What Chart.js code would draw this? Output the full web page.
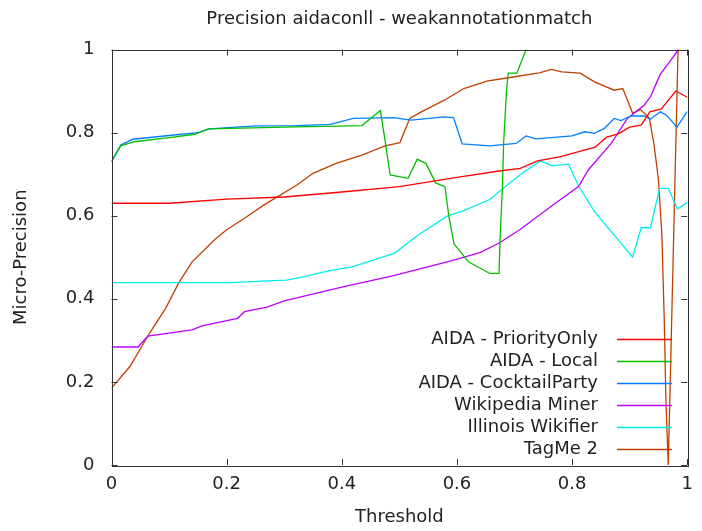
<!DOCTYPE html>
<html>
<head>
<meta charset="utf-8">
<script src="https://cdn.jsdelivr.net/npm/chart.js@4.4.0/dist/chart.umd.min.js"></script>
<style>
  html, body { margin: 0; padding: 0; background: #fff; }
  #myChart { display: block; }
</style>
</head>
<body>
<canvas id="myChart" width="702" height="531"></canvas>
<script>
// values (threshold -> micro-precision)
const priorityX = [0, 0.1, 0.2, 0.3, 0.4, 0.5, 0.6, 0.67, 0.71, 0.74, 0.78, 0.84, 0.86, 0.88, 0.9, 0.92, 0.935, 0.955, 0.98, 1.0];
const priorityY = [0.63, 0.63, 0.64, 0.645, 0.657, 0.67, 0.692, 0.707, 0.714, 0.732, 0.742, 0.765, 0.789, 0.797, 0.813, 0.818, 0.85, 0.857, 0.90, 0.885];

const localX = [0, 0.016, 0.04, 0.1, 0.145, 0.168, 0.3, 0.435, 0.467, 0.475, 0.484, 0.515, 0.531, 0.546, 0.563, 0.579, 0.586, 0.595, 0.62, 0.657, 0.673, 0.675, 0.679, 0.681, 0.686, 0.689, 0.704, 0.72, 0.74];
const localY = [0.73, 0.768, 0.778, 0.788, 0.796, 0.809, 0.813, 0.817, 0.853, 0.782, 0.698, 0.69, 0.736, 0.726, 0.679, 0.67, 0.598, 0.532, 0.489, 0.461, 0.461, 0.549, 0.67, 0.774, 0.90, 0.943, 0.943, 1.0, 1.06];

const cocktailX = [0, 0.016, 0.037, 0.1, 0.15, 0.17, 0.25, 0.32, 0.38, 0.42, 0.49, 0.52, 0.578, 0.594, 0.609, 0.657, 0.703, 0.72, 0.737, 0.8, 0.822, 0.839, 0.856, 0.873, 0.885, 0.902, 0.925, 0.936, 0.953, 0.964, 0.982, 1.0];
const cocktailY = [0.73, 0.77, 0.784, 0.793, 0.80, 0.809, 0.816, 0.817, 0.82, 0.834, 0.836, 0.83, 0.838, 0.836, 0.773, 0.768, 0.774, 0.792, 0.785, 0.792, 0.802, 0.798, 0.81, 0.834, 0.829, 0.84, 0.84, 0.832, 0.85, 0.842, 0.813, 0.851];

const minerX = [0, 0.046, 0.063, 0.14, 0.157, 0.219, 0.231, 0.27, 0.3, 0.4, 0.49, 0.583, 0.64, 0.674, 0.709, 0.765, 0.811, 0.828, 0.868, 0.896, 0.925, 0.936, 0.953, 0.967, 0.985];
const minerY = [0.284, 0.284, 0.31, 0.325, 0.335, 0.353, 0.369, 0.38, 0.395, 0.428, 0.456, 0.489, 0.511, 0.535, 0.566, 0.624, 0.67, 0.71, 0.774, 0.834, 0.866, 0.886, 0.94, 0.966, 1.0];

const wikifierX = [0, 0.208, 0.27, 0.304, 0.333, 0.379, 0.418, 0.492, 0.532, 0.583, 0.612, 0.657, 0.691, 0.714, 0.745, 0.765, 0.794, 0.811, 0.839, 0.905, 0.92, 0.936, 0.952, 0.967, 0.983, 1.0];
const wikifierY = [0.439, 0.439, 0.443, 0.445, 0.453, 0.468, 0.477, 0.51, 0.553, 0.599, 0.612, 0.639, 0.678, 0.703, 0.732, 0.72, 0.724, 0.672, 0.61, 0.50, 0.571, 0.571, 0.666, 0.666, 0.616, 0.632];

const tagmeX = [0, 0.032, 0.066, 0.094, 0.117, 0.14, 0.179, 0.2, 0.231, 0.265, 0.322, 0.35, 0.39, 0.435, 0.475, 0.501, 0.518, 0.538, 0.578, 0.612, 0.652, 0.689, 0.743, 0.764, 0.782, 0.814, 0.839, 0.873, 0.888, 0.905, 0.919, 0.934, 0.942, 0.95, 0.956, 0.96, 0.963, 0.967, 0.984];
const tagmeY = [0.185, 0.237, 0.317, 0.377, 0.439, 0.489, 0.542, 0.566, 0.594, 0.626, 0.674, 0.702, 0.726, 0.746, 0.768, 0.776, 0.834, 0.85, 0.878, 0.906, 0.924, 0.932, 0.944, 0.952, 0.946, 0.943, 0.922, 0.902, 0.906, 0.847, 0.855, 0.835, 0.774, 0.686, 0.55, 0.35, 0.15, 0, 1.0];

const seriesNames = ['AIDA - PriorityOnly', 'AIDA - Local', 'AIDA - CocktailParty', 'Wikipedia Miner', 'Illinois Wikifier', 'TagMe 2'];
const seriesColors = ['#ff0000', '#00c000', '#0080ff', '#c000ff', '#00eeee', '#c04000'];
const xTicks = [0, 0.2, 0.4, 0.6, 0.8, 1];
const yTicks = [0, 0.2, 0.4, 0.6, 0.8, 1];

const allX = [priorityX, localX, cocktailX, minerX, wikifierX, tagmeX];
const allY = [priorityY, localY, cocktailY, minerY, wikifierY, tagmeY];

const FONT = 'DejaVu Sans';
const FSIZE = 18;
const TEXT = '#222';

function pts(xs, ys) {
    return xs.map((x, i) => ({ x: x, y: ys[i] }));
}

// gnuplot style frame, inward ticks, title and key
const gnuplotFrame = {
    id: 'gnuplotFrame',
    afterDatasetsDraw(chart) {
        const ctx = chart.ctx;
        const a = chart.chartArea;
        const xs = chart.scales.x, ys = chart.scales.y;
        ctx.save();
        ctx.strokeStyle = '#333';
        ctx.lineWidth = 1;
        ctx.strokeRect(Math.round(a.left) + 0.5, Math.round(a.top) + 0.5,
            Math.round(a.right - a.left), Math.round(a.bottom - a.top));
        ctx.beginPath();
        xTicks.forEach(v => {
            const px = Math.round(xs.getPixelForValue(v)) + 0.5;
            ctx.moveTo(px, a.bottom); ctx.lineTo(px, a.bottom - 6);
            ctx.moveTo(px, a.top); ctx.lineTo(px, a.top + 6);
        });
        yTicks.forEach(v => {
            const py = Math.round(ys.getPixelForValue(v)) + 0.5;
            ctx.moveTo(a.left, py); ctx.lineTo(a.left + 6, py);
            ctx.moveTo(a.right, py); ctx.lineTo(a.right - 6, py);
        });
        ctx.stroke();

        // title
        ctx.fillStyle = TEXT;
        ctx.font = FSIZE + 'px "' + FONT + '"';
        ctx.textAlign = 'center';
        ctx.textBaseline = 'middle';
        ctx.fillText('Precision aidaconll - weakannotationmatch', (a.left + a.right) / 2, 19);

        // key
        ctx.textAlign = 'right';
        chart.data.datasets.forEach((ds, i) => {
            const y = 339.5 + i * 22;
            ctx.fillStyle = TEXT;
            ctx.fillText(ds.label, 598, y);
            ctx.strokeStyle = ds.borderColor;
            ctx.lineWidth = 1.3;
            ctx.beginPath();
            ctx.moveTo(617, y); ctx.lineTo(672, y);
            ctx.stroke();
        });
        ctx.restore();
    }
};

const ctx = document.getElementById('myChart').getContext('2d');
new Chart(ctx, {
    type: 'line',
    data: {
        datasets: seriesNames.map((name, i) => ({
            label: name,
            data: pts(allX[i], allY[i]),
            borderColor: seriesColors[i],
            backgroundColor: seriesColors[i],
            borderWidth: 1.3,
            pointRadius: 0,
            tension: 0,
            fill: false
        }))
    },
    options: {
        responsive: false,
        devicePixelRatio: 1,
        animation: false,
        layout: { padding: { top: 49.5, right: 5, left: 0, bottom: 0 } },
        plugins: {
            legend: { display: false },
            title: { display: false },
            tooltip: { enabled: false }
        },
        scales: {
            x: {
                type: 'linear',
                min: 0,
                max: 1,
                afterFit: s => { s.height = 66; },
                afterBuildTicks: s => { s.ticks = xTicks.map(v => ({ value: v })); },
                grid: { display: false, drawTicks: false },
                border: { display: false },
                ticks: {
                    padding: 9,
                    color: TEXT,
                    font: { family: FONT, size: FSIZE },
                    maxRotation: 0,
                    callback: v => String(Number(v.toFixed(1)))
                },
                title: {
                    display: true,
                    text: 'Threshold',
                    color: TEXT,
                    font: { family: FONT, size: FSIZE },
                    padding: { top: 0, bottom: 3 }
                }
            },
            y: {
                type: 'linear',
                min: 0,
                max: 1,
                afterFit: s => { s.width = 111.5; },
                afterBuildTicks: s => { s.ticks = yTicks.map(v => ({ value: v })); },
                grid: { display: false, drawTicks: false },
                border: { display: false },
                ticks: {
                    padding: 17,
                    color: TEXT,
                    font: { family: FONT, size: FSIZE },
                    callback: v => String(Number(v.toFixed(1)))
                },
                title: {
                    display: true,
                    text: 'Micro-Precision',
                    color: TEXT,
                    font: { family: FONT, size: FSIZE },
                    padding: { top: 11, bottom: 0 }
                }
            }
        }
    },
    plugins: [gnuplotFrame]
});
</script>
</body>
</html>
